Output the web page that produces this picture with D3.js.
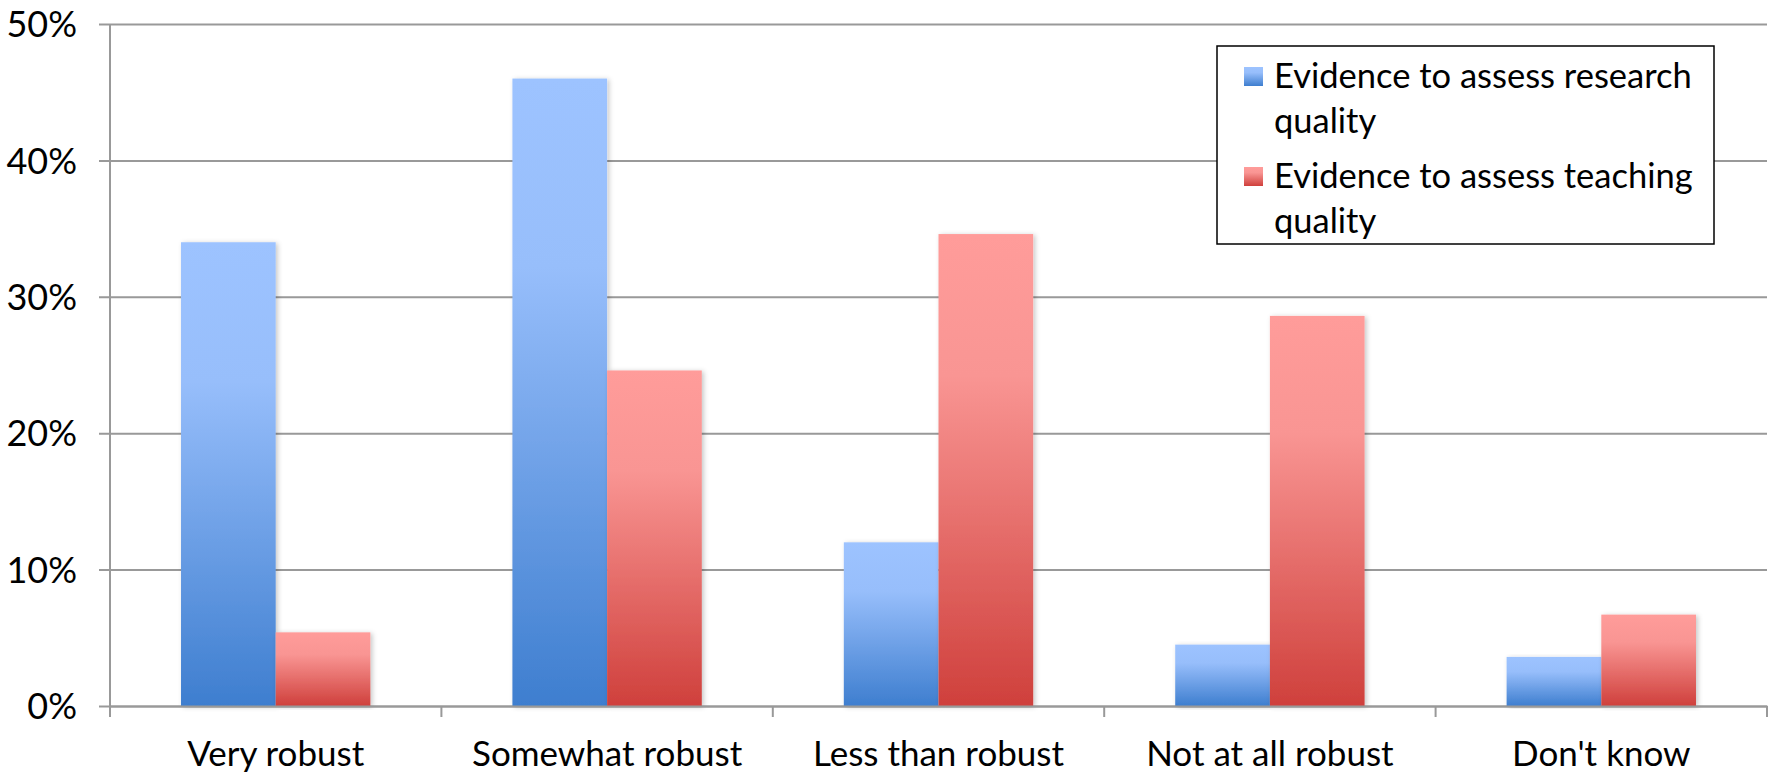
<!DOCTYPE html>
<html>
<head>
<meta charset="utf-8">
<script src="https://cdn.jsdelivr.net/npm/d3@7"></script>
<style>
  html, body { margin: 0; padding: 0; background: #fff; }
  svg { display: block; }
  text { font-family: Lato, "Open Sans", sans-serif; fill: #000; }
</style>
</head>
<body>
<svg id="chart" width="1773" height="772"></svg>
<script>
const categories = ["Very robust", "Somewhat robust", "Less than robust", "Not at all robust", "Don't know"];
const seriesNames = ["Evidence to assess research quality", "Evidence to assess teaching quality"];
const researchValues = [34.0, 46.0, 12.0, 4.5, 3.6];
const teachingValues = [5.4, 24.6, 34.6, 28.6, 6.7];
const yTicks = [0, 10, 20, 30, 40, 50];

const svg = d3.select("#chart");
const W = 1773, H = 772;
const margin = { left: 110, right: 6, top: 24, bottom: 66 };
const FONT = "Lato, 'Open Sans', sans-serif";

const x = d3.scaleBand().domain(categories).range([margin.left, W - margin.right]).padding(0);
const y = d3.scaleLinear().domain([0, 50]).range([H - margin.bottom, margin.top]);

const defs = svg.append("defs");
const grads = [
  { id: "gBlue", stops: [["0%", "#9DC3FF"], ["30%", "#97BEFB"], ["100%", "#3E7ECF"]] },
  { id: "gRed", stops: [["0%", "#FF9C9A"], ["30%", "#F99593"], ["100%", "#CF403C"]] }
];
grads.forEach(g => {
  const lg = defs.append("linearGradient").attr("id", g.id).attr("x1", 0).attr("y1", 0).attr("x2", 0).attr("y2", 1);
  g.stops.forEach(s => lg.append("stop").attr("offset", s[0]).attr("stop-color", s[1]));
});
const f = defs.append("filter").attr("id", "shadow").attr("x", "-20%").attr("y", "-5%").attr("width", "140%").attr("height", "110%");
f.append("feDropShadow").attr("dx", 2).attr("dy", 1).attr("stdDeviation", 2.5).attr("flood-color", "#000").attr("flood-opacity", 0.22);

// Gridlines + y axis ticks
const yAxis = d3.axisLeft(y).tickValues(yTicks).tickSize(-(W - margin.right - margin.left)).tickFormat(d => d + "%");
const gy = svg.append("g").attr("transform", `translate(${margin.left},0)`).call(yAxis);
gy.select(".domain").remove();
gy.selectAll(".tick line").attr("stroke", "#999").attr("stroke-width", 2).attr("x1", -11);
gy.selectAll(".tick text").attr("font-size", 36).attr("x", -33).attr("dy", "0.35em").style("font-family", FONT);

// Bars
const groupPad = x.bandwidth() * 0.75 / 3.5;
const barW = x.bandwidth() / 3.5;
const series = [
  { name: seriesNames[0], values: researchValues, fill: "url(#gBlue)", off: 0 },
  { name: seriesNames[1], values: teachingValues, fill: "url(#gRed)", off: 1 }
];
series.forEach(s => {
  svg.append("g").selectAll("rect").data(categories).join("rect")
    .attr("x", (c) => x(c) + groupPad + s.off * barW)
    .attr("y", (c, i) => y(s.values[i]))
    .attr("width", barW)
    .attr("height", (c, i) => y(0) - y(s.values[i]))
    .attr("fill", s.fill)
    .attr("filter", "url(#shadow)");
});

// y axis line
svg.append("line").attr("x1", margin.left).attr("x2", margin.left)
  .attr("y1", margin.top).attr("y2", y(0) + 11).attr("stroke", "#999").attr("stroke-width", 2);

// x axis
const xAxis = d3.axisBottom(x).tickSize(0).tickPadding(35);
const gx = svg.append("g").attr("transform", `translate(0,${y(0)})`).call(xAxis);
gx.select(".domain").attr("stroke", "#999").attr("stroke-width", 2);
gx.selectAll(".tick text").attr("font-size", 35).style("font-family", FONT);
// boundary ticks
const bounds = categories.map(c => x(c)).concat([x(categories[categories.length - 1]) + x.bandwidth()]);
svg.append("g").selectAll("line").data(bounds).join("line")
  .attr("x1", d => d).attr("x2", d => d).attr("y1", y(0)).attr("y2", y(0) + 11)
  .attr("stroke", "#999").attr("stroke-width", 2);

// Legend
const lg = svg.append("g");
lg.append("rect").attr("x", 1217).attr("y", 46).attr("width", 497).attr("height", 198)
  .attr("fill", "#fff").attr("stroke", "#000").attr("stroke-width", 1.5);
const legendLines = [["Evidence to assess research", "quality"], ["Evidence to assess teaching", "quality"]];
const legFills = ["url(#gBlue)", "url(#gRed)"];
legendLines.forEach((lines, i) => {
  const top = 60 + i * 100;
  lg.append("rect").attr("x", 1244).attr("y", top + 7).attr("width", 19).attr("height", 19).attr("fill", legFills[i]);
  lines.forEach((t, j) => {
    lg.append("text").attr("x", 1274).attr("y", top + 16 + j * 45).attr("dy", "0.35em")
      .attr("font-size", 34.5).style("font-family", FONT).text(t);
  });
});
</script>
</body>
</html>
